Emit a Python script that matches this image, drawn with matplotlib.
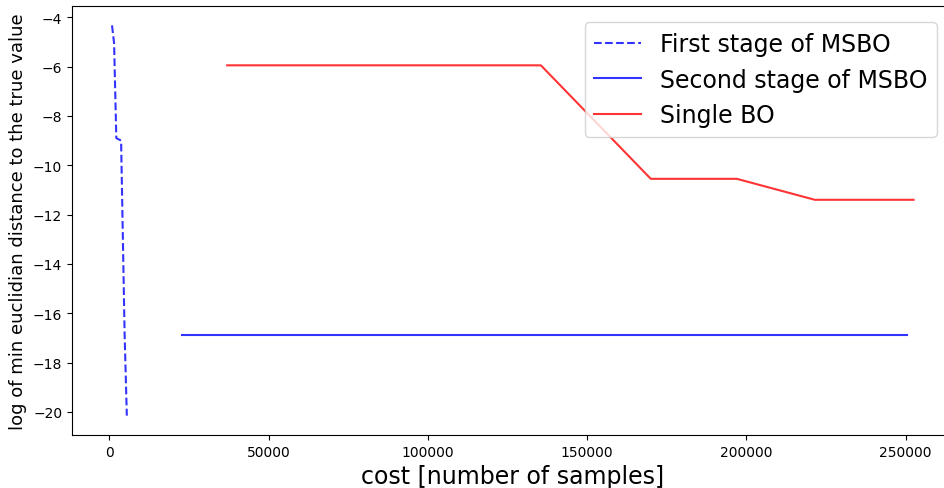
import numpy as np
from matplotlib import pyplot as plt

# first stage of MSBO (dashed)
cost_first = [850, 1500, 2200, 3700, 4800, 5500]
err_first = [-4.33, -5.05, -8.9, -9.0, -16.8, -20.15]

# second stage of MSBO
cost_second = [22800, 250500]
err_second = [-16.9, -16.9]

# single BO
cost_single = [37000, 135500, 170000, 197000, 221500, 252500]
err_single = [-5.95, -5.95, -10.55, -10.55, -11.4, -11.4]

fig = plt.figure(figsize=(9.44, 4.89), dpi=100)
ax = fig.add_axes([0.0762, 0.108, 0.934, 0.878])

ax.plot(cost_first, err_first, 'b--', alpha=0.8, linewidth=1.5, label='First stage of MSBO')
ax.plot(cost_second, err_second, 'b-', alpha=0.8, linewidth=1.5, label='Second stage of MSBO')
ax.plot(cost_single, err_single, 'r-', alpha=0.8, linewidth=1.5, label='Single BO')

ax.set_xlabel('cost [number of samples]', fontsize=17)
ax.set_ylabel('log of min euclidian distance to the true value', fontsize=13)
ax.tick_params(labelsize=10)
ax.legend(loc='upper right', fontsize=17, borderaxespad=0.7)

fig.savefig('out.png', dpi=100)
